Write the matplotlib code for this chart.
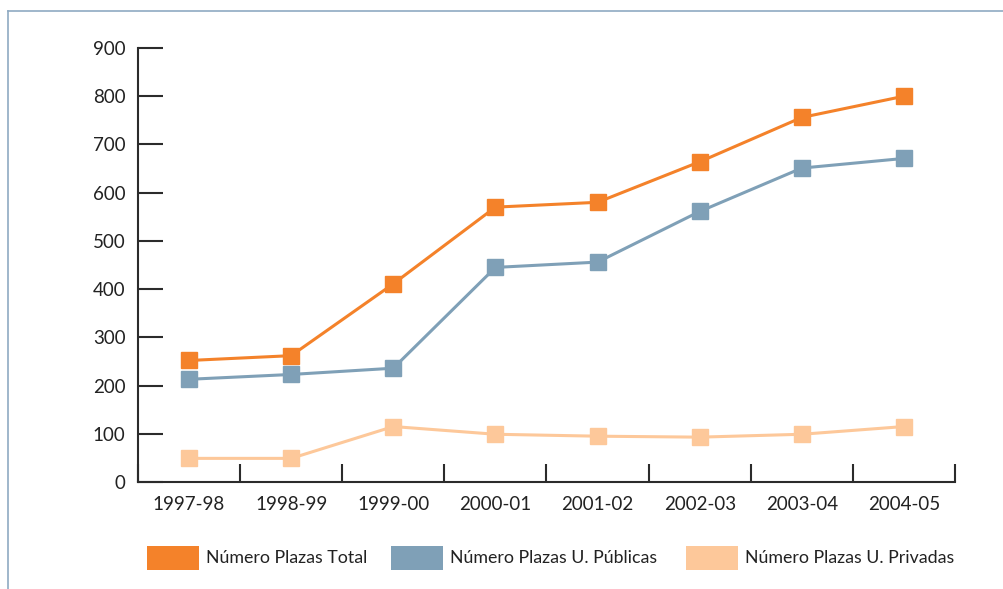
import matplotlib
matplotlib.use('Agg')
import matplotlib.pyplot as plt
from matplotlib.patches import Rectangle
from matplotlib.lines import Line2D

plt.rcParams['font.family'] = ['Lato', 'DejaVu Sans']

years = ['1997-98', '1998-99', '1999-00', '2000-01', '2001-02', '2002-03', '2003-04', '2004-05']
total = [252, 262, 411, 570, 580, 664, 756, 800]
publicas = [213, 223, 236, 445, 456, 561, 651, 671]
privadas = [49, 49, 115, 99, 95, 93, 99, 115]
labels = ['Número Plazas Total', 'Número Plazas U. Públicas', 'Número Plazas U. Privadas']
colors = ['#F4822A', '#7FA0B7', '#FDC89A']

W, H = 1004, 589
fig = plt.figure(figsize=(W / 100, H / 100), dpi=100)
ax = fig.add_axes([138 / W, (H - 482) / H, (955 - 138) / W, (482 - 48) / H])

x = list(range(len(years)))
for series, c in zip([total, publicas, privadas], colors):
    ax.plot(x, series, color=c, lw=2.2, marker='s', ms=11.5, mec=c, mfc=c, zorder=3)

ax.set_xlim(-0.5, len(years) - 0.5)
ax.set_ylim(0, 900)
ax.set_yticks(range(0, 901, 100))
ax.set_xticks([i + 0.5 for i in range(-1, len(years))], minor=False)
ax.set_xticklabels([])
ax.set_xticks(x, minor=True)
ax.set_xticklabels(years, minor=True)

ax.spines['top'].set_visible(False)
ax.spines['right'].set_visible(False)
for s in ['left', 'bottom']:
    ax.spines[s].set_color('#2b2b2b')
    ax.spines[s].set_linewidth(1.5)
ax.tick_params(axis='y', direction='in', length=18, width=1.5, color='#2b2b2b',
               labelsize=13.5, pad=9, labelcolor='#222222')
ax.tick_params(axis='x', which='major', direction='in', length=13, width=1.5, color='#2b2b2b')
ax.tick_params(axis='x', which='minor', length=0, labelsize=13.5, pad=10, labelcolor='#222222')

# legend
leg_x = [147, 391, 686]
for lx, lab, c in zip(leg_x, labels, colors):
    fig.add_artist(Rectangle((lx / W, (H - 570) / H), 52 / W, 24 / H,
                             transform=fig.transFigure, color=c, lw=0))
    fig.text((lx + 59) / W, (H - 558) / H, lab, fontsize=12.8, va='center',
             ha='left', color='#222222')

# frame
fc = '#8FAAC2'
fig.add_artist(Line2D([8 / W, 1], [1 - 11 / H, 1 - 11 / H], transform=fig.transFigure, color=fc, lw=1.2))
fig.add_artist(Line2D([8 / W, 8 / W], [0, 1 - 11 / H], transform=fig.transFigure, color=fc, lw=1.2))

fig.savefig('out.png', dpi=100)
